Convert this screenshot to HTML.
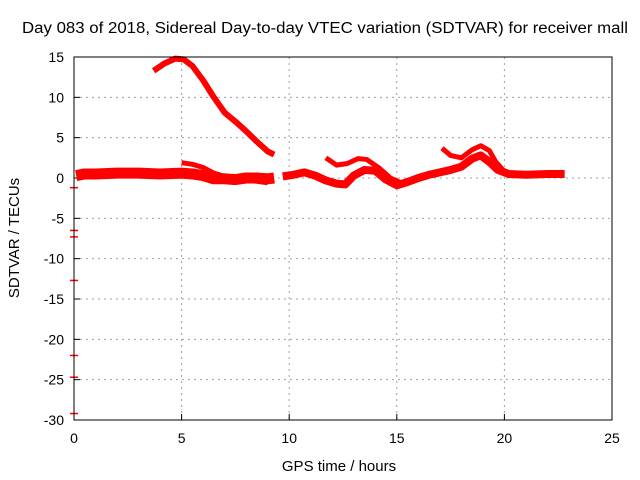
<!DOCTYPE html>
<html><head><meta charset="utf-8"><style>
body{margin:0;background:#fff}
svg{display:block;font-family:"Liberation Sans",sans-serif}
</style></head><body>
<svg id="chart" width="640" height="480">
<rect width="640" height="480" fill="#fff"/>
<text x="22" y="33" font-size="15.5" textLength="606" lengthAdjust="spacingAndGlyphs">Day 083 of 2018, Sidereal Day-to-day VTEC variation (SDTVAR) for receiver mall</text>
<text x="339" y="471" font-size="15" text-anchor="middle">GPS time / hours</text>
<text transform="translate(19,238) rotate(-90)" font-size="15" text-anchor="middle">SDTVAR / TECUs</text>
<g id="grid"></g><g id="ticks"></g><g id="marks"></g>
<rect x="74" y="57" width="538" height="363" fill="none" stroke="#000" stroke-width="1"/>
</svg>
<script>
const xTicks=[0,5,10,15,20,25];
const yTicks=[15,10,5,0,-5,-10,-15,-20,-25,-30];
const trackArc=[[3.7,13.3],[4.2,14.2],[4.7,14.8],[5.1,14.7],[5.5,13.9],[6,12.1],[6.5,10],[7,8.1],[7.5,7],[8,5.8],[8.5,4.5],[9,3.3],[9.3,2.9]];
const trackMainA=[[0.1,0.3],[0.5,0.5],[1,0.5],[2,0.6],[3,0.6],[4,0.5],[5,0.6],[5.5,0.5],[6,0.3],[6.5,-0.1],[7,-0.1],[7.5,-0.2],[8,0],[8.5,0],[9,-0.1],[9.3,0]];
const trackMainB=[[9.7,0.2],[10.2,0.4],[10.7,0.7],[11.2,0.3],[11.7,-0.3],[12.2,-0.7],[12.6,-0.8],[13,0.3],[13.5,1.0],[14,0.9],[14.5,-0.2],[15,-0.9],[15.5,-0.5],[16,0],[16.5,0.4],[17,0.7],[17.5,1],[18,1.4],[18.5,2.4],[18.9,2.8],[19.3,2.0],[19.7,1.0],[20.2,0.5],[21,0.4],[22,0.5],[22.8,0.5]];
const trackSecond=[[5,1.9],[5.5,1.7],[6,1.3],[6.5,0.6],[7,0.2],[7.5,-0.1],[8,-0.3],[8.5,-0.4],[9,-0.6]];
const trackMid=[[11.7,2.5],[12.2,1.6],[12.7,1.8],[13.2,2.4],[13.6,2.3],[14.2,1.2],[14.7,0],[15.2,-0.6]];
const trackLate=[[17.1,3.7],[17.5,2.8],[18,2.5],[18.5,3.5],[18.9,4.0],[19.3,3.4],[19.6,2.0],[20,0.8]];
const strayVals=[-1.2,-6.5,-7.3,-12.7,-22,-24.7,-29.2];
const X=v=>74+v*538/25, Y=v=>420-(v+30)*363/45;
const NS="http://www.w3.org/2000/svg";
function mk(tag,attrs,parent){const e=document.createElementNS(NS,tag);for(const k in attrs)e.setAttribute(k,attrs[k]);document.getElementById(parent).appendChild(e);return e;}
xTicks.forEach(t=>{
 if(t>0&&t<25){const g=mk('line',{x1:X(t),x2:X(t),y1:57,y2:420,stroke:'#a0a0a0','stroke-dasharray':'2,4'},'grid');
 
 }
 const tk=mk('line',{x1:X(t),x2:X(t),y1:420,y2:414,stroke:'#000'},'ticks');
 
 
 const tx=mk('text',{x:X(t),y:443,'font-size':14,'text-anchor':'middle'},'ticks');tx.textContent=t;
 
 
});
yTicks.forEach(t=>{
 if(t<15&&t>-30){const g=mk('line',{x1:74,x2:612,y1:Y(t),y2:Y(t),stroke:'#a0a0a0','stroke-dasharray':'2,4'},'grid');
 
 }
 const tk=mk('line',{x1:74,x2:80,y1:Y(t),y2:Y(t),stroke:'#000'},'ticks');
 
 
 const tx=mk('text',{x:64,y:Y(t)+5,'font-size':14,'text-anchor':'end'},'ticks');tx.textContent=t;
 
 
});
function track(data,w,name){
 const p=mk('polyline',{points:data.map(d=>X(d[0])+','+Y(d[1])).join(' '),fill:'none',stroke:'#ff0000','stroke-width':w,'stroke-linejoin':'round','stroke-linecap':'butt'},'marks');
 
 
}
track(trackArc,6,'series-arc');
track(trackMainA,11,'series-main-early');
track(trackMainB,8,'series-main-late');
track(trackSecond,5,'series-secondary');
track(trackMid,5,'series-mid');
track(trackLate,5,'series-late');
strayVals.forEach(v=>{
 const l=mk('line',{x1:70,x2:78,y1:Y(v),y2:Y(v),stroke:'#ff0000','stroke-width':1.5},'marks');
 
 
});
</script>
</body></html>
